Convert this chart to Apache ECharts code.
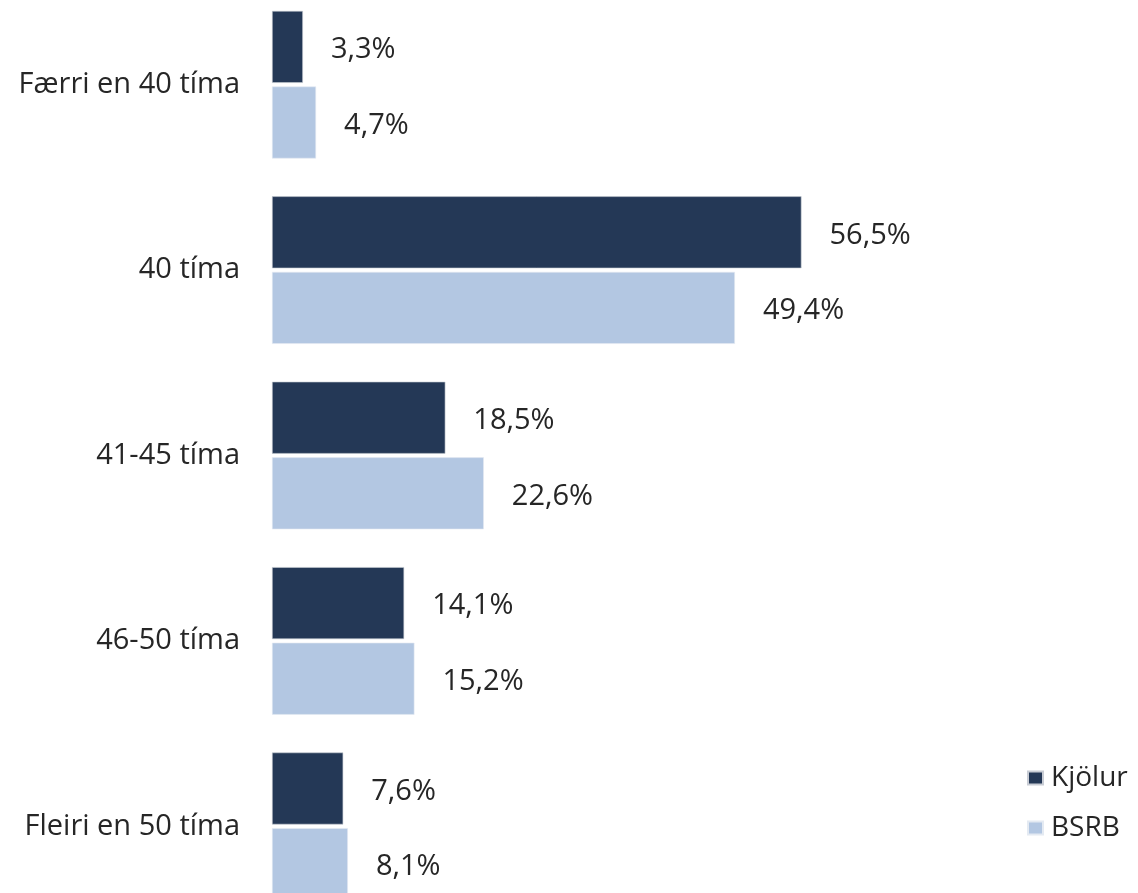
<!DOCTYPE html>
<html><head><meta charset="utf-8">
<script src="https://cdn.jsdelivr.net/npm/echarts@6/dist/echarts.min.js"></script>
<style>html,body{margin:0;padding:0;background:#fff}#c{width:1138px;height:893px}</style>
</head><body><div id="c"></div>
<script>
const categories = ["Færri en 40 tíma", "40 tíma", "41-45 tíma", "46-50 tíma", "Fleiri en 50 tíma"];
const kjolur = [3.3, 56.5, 18.5, 14.1, 7.6];
const bsrb = [4.7, 49.4, 22.6, 15.2, 8.1];
const seriesNames = ["Kjölur", "BSRB"];

const font = "'Open Sans', Lato, sans-serif";
const chart = echarts.init(document.getElementById('c'));
const lbl = {
  show: true, position: 'right', distance: 28, offset: [0, 3],
  formatter: p => p.value.toFixed(1).replace('.', ',') + '%',
  fontFamily: font, fontSize: 29, color: '#262626'
};
chart.setOption({
  animation: false,
  grid: { left: 272, top: -8, width: 656, height: 927, outerBoundsMode: 'none', containLabel: false },
  legend: {
    orient: 'vertical', left: 1027, top: 763, padding: 0, itemWidth: 15, itemHeight: 13, itemGap: 20,
    icon: 'rect',
    textStyle: { fontFamily: font, fontSize: 28, lineHeight: 30, color: '#262626', padding: [0,0,0,3] },
    data: seriesNames
  },
  xAxis: { type: 'value', min: 0, max: 70, show: false },
  yAxis: {
    type: 'category', data: categories, inverse: true,
    axisLine: { show: false }, axisTick: { show: false },
    axisLabel: { margin: 32, fontFamily: font, fontSize: 29, color: '#262626', padding: [12, 0, 0, 0] }
  },
  series: [
    { name: seriesNames[0], type: 'bar', data: kjolur, barWidth: 72, barGap: '5%',
      itemStyle: { color: '#243856', borderColor: '#c8ccd4', borderWidth: 0.6 }, label: lbl },
    { name: seriesNames[1], type: 'bar', data: bsrb, barWidth: 72,
      itemStyle: { color: '#b3c7e2', borderColor: '#e4eaf2', borderWidth: 0.6 }, label: lbl }
  ]
});
</script></body></html>
